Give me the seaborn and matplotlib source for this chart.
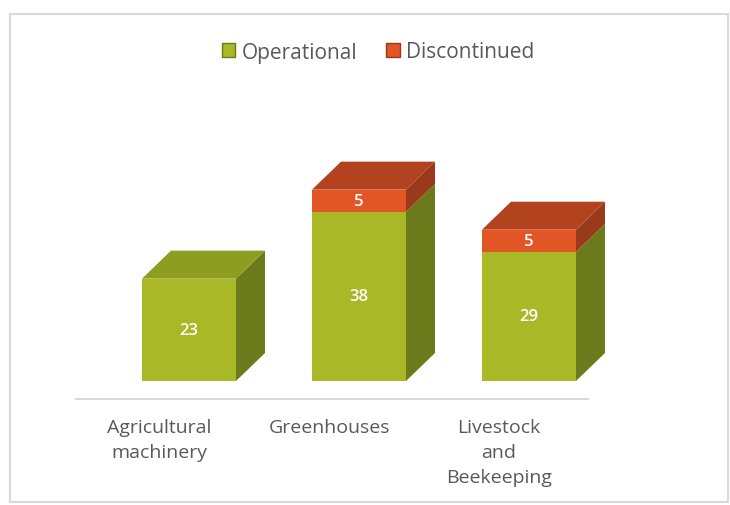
import matplotlib

matplotlib.use("Agg")

import matplotlib.pyplot as plt
import pandas as pd
import seaborn as sns
from matplotlib.patches import Patch, Polygon, Rectangle

categories = ["Agricultural\nmachinery", "Greenhouses", "Livestock\nand\nBeekeeping"]
operational = [23, 38, 29]
discontinued = [0, 5, 5]
series_names = ["Operational", "Discontinued"]

GREEN = "#a9b827"
GREEN_TOP = "#8d9d1f"
GREEN_SIDE = "#6b7a1a"
RED = "#e25524"
RED_TOP = "#b3431f"
RED_SIDE = "#983a1b"
TEXT = "#595959"

df = pd.DataFrame({"category": categories, "operational": operational, "discontinued": discontinued})
df["total"] = df["operational"] + df["discontinued"]

sns.set_theme(style="white")
plt.rcParams["font.family"] = ["Open Sans", "DejaVu Sans"]

W, H = 730, 506
fig = plt.figure(figsize=(W / 100, H / 100), dpi=100)
fig.patch.set_facecolor("white")
fig.patches.append(
    Rectangle((10 / W, 1 - 503 / H), (728 - 10) / W, (503 - 15) / H,
              transform=fig.transFigure, fill=False, edgecolor="#d9d9d9", lw=1.5)
)

ax = fig.add_axes([76 / W, 1 - 400 / H, 512 / W, 380 / H])
px_unit = 4.45

bw = 94 / 170
sns.barplot(data=df, x="category", y="total", color=RED, saturation=1, width=bw, ax=ax)
sns.barplot(data=df, x="category", y="operational", color=GREEN, saturation=1, width=bw, ax=ax)
for p in ax.patches:
    p.set_edgecolor("none")

# fake 3D depth
dx, dy = 29 / 170, 28 / px_unit
for i in range(len(categories)):
    x0 = i - bw / 2
    x1 = i + bw / 2
    segs = [(0, operational[i], GREEN_SIDE, GREEN_TOP)]
    if discontinued[i] > 0:
        segs.append((operational[i], operational[i] + discontinued[i], RED_SIDE, RED_TOP))
    for y0, y1, side, _ in segs:
        ax.add_patch(Polygon([(x1, y0), (x1 + dx, y0 + dy), (x1 + dx, y1 + dy), (x1, y1)],
                             closed=True, facecolor=side, edgecolor="none", clip_on=False))
    yt, top = segs[-1][1], segs[-1][3]
    ax.add_patch(Polygon([(x0, yt), (x1, yt), (x1 + dx, yt + dy), (x0 + dx, yt + dy)],
                         closed=True, facecolor=top, edgecolor="none", clip_on=False))
    # value labels
    ax.text(i, operational[i] / 2, str(operational[i]), ha="center", va="center",
            color="white", fontsize=12, fontweight="semibold")
    if discontinued[i] > 0:
        ax.text(i, operational[i] + discontinued[i] / 2, str(discontinued[i]), ha="center",
                va="center", color="white", fontsize=12, fontweight="semibold")

# seaborn resets the limits, so set them afterwards
ax.set_xlim(-113 / 170, 399 / 170)
ax.set_ylim(-18 / px_unit, 362 / px_unit)

ax.set_xticks([i - 30 / 170 for i in range(len(categories))])
ax.set_xticklabels(categories, fontsize=14, color=TEXT, linespacing=1.5)
ax.tick_params(axis="x", length=0, pad=14)
ax.set_yticks([])
ax.set_xlabel("")
ax.set_ylabel("")
for side in ["top", "left", "right"]:
    ax.spines[side].set_visible(False)
ax.spines["bottom"].set_color("#d9d9d9")
ax.spines["bottom"].set_linewidth(1.5)

handles = [Patch(facecolor=GREEN, edgecolor=GREEN_SIDE), Patch(facecolor=RED, edgecolor=RED_SIDE)]
fig.legend(handles, series_names, loc="center", bbox_to_anchor=(378 / W, 1 - 53 / H), ncol=2,
           frameon=False, fontsize=15, labelcolor=TEXT, handlelength=0.65, handleheight=0.65,
           handletextpad=0.3, columnspacing=1.4)

fig.savefig("out.png", dpi=100, facecolor="white")
